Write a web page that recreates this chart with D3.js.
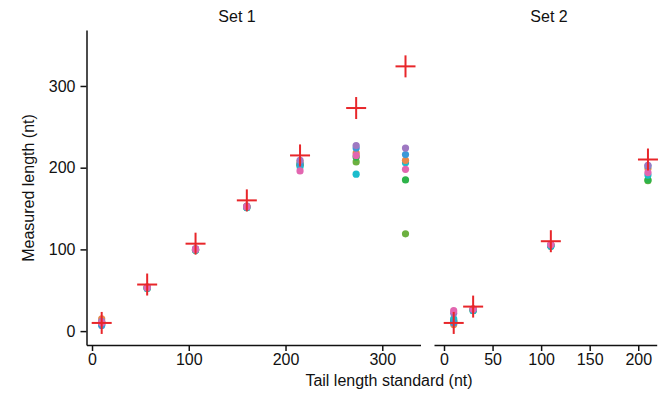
<!DOCTYPE html>
<html><head><meta charset="utf-8">
<script src="https://cdn.jsdelivr.net/npm/d3@7"></script>
<style>
html,body{margin:0;padding:0;background:#fff;}
text{font-family:"Liberation Sans",Arial,Helvetica,sans-serif;}
</style></head>
<body><svg id="c" width="663" height="394"></svg>
<script>
// ---- data ----
const set1Standards = [10, 57, 107, 160, 215, 273, 324];
const set2Standards = [10, 30, 110, 210];
const samples = ["S1", "S2", "S3", "S4", "S5", "S6", "S7"];
const sampleColors = ["#6cb040", "#2db34a", "#1bbccc", "#e8894a", "#3b99d8", "#9e78c2", "#e266b0"];
const set1Values = [
  [9, 52, 99, 151, 203, 207, 119],
  [11, 53, 100, 152, 204, 213, 185],
  [8, 52, 99, 151, 201, 192, 206],
  [15, 54, 100, 153, 207, 218, 209],
  [7, 53, 100, 152, 205, 224, 216],
  [12, 54, 101, 153, 209, 227, 224],
  [10, 53, 100, 152, 196, 215, 198]
];
const set2Values = [
  [13, 26, 105, 184],
  [12, 25, 104, 185],
  [15, 25, 104, 191],
  [8, 27, 106, 199],
  [10, 26, 105, 202],
  [22, 27, 106, 203],
  [25, 27, 106, 194]
];
const set1Ticks = [0, 100, 200, 300];
const set2Ticks = [0, 50, 100, 150, 200];
const yTicks = [0, 100, 200, 300];
const panelTitles = ["Set 1", "Set 2"];

// ---- layout ----
const svg = d3.select("#c");
const y = d3.scaleLinear().domain([-17, 368.5]).range([345, 30]);
const x1 = d3.scaleLinear().domain([-5.7, 339.5]).range([86.5, 420.5]);
const x2 = d3.scaleLinear().domain([-10.3, 219]).range([434, 656.7]);
const FS = 16;

function styleAxis(g){
  g.selectAll(".domain").attr("stroke","#111").attr("stroke-width",1.5);
  g.selectAll(".tick line").attr("stroke","#111").attr("stroke-width",1.5);
  g.selectAll(".tick text").attr("font-size",FS).attr("fill","#111")
    .attr("font-family",'"Liberation Sans",Arial,sans-serif');
}

// y axis
const gy = svg.append("g").attr("transform",`translate(${x1.range()[0]},0)`)
  .call(d3.axisLeft(y).tickValues(yTicks).tickSize(6).tickSizeOuter(0).tickPadding(5));
styleAxis(gy);

// x axes
const gx1 = svg.append("g").attr("transform",`translate(0,${y.range()[0]})`)
  .call(d3.axisBottom(x1).tickValues(set1Ticks).tickSize(6).tickSizeOuter(0).tickPadding(3));
styleAxis(gx1);
const gx2 = svg.append("g").attr("transform",`translate(0,${y.range()[0]})`)
  .call(d3.axisBottom(x2).tickValues(set2Ticks).tickSize(6).tickSizeOuter(0).tickPadding(3));
styleAxis(gx2);

function drawPanel(x, standards, values){
  const g = svg.append("g");
  values.forEach((vals, si) => {
    g.selectAll(null).data(vals.map((v,i)=>({x:standards[i], y:v})))
      .enter().append("circle")
      .attr("cx", d=>x(d.x)).attr("cy", d=>y(d.y)).attr("r",3.6)
      .attr("fill", sampleColors[si]);
  });
  const cr = g.selectAll(null).data(standards).enter().append("g");
  cr.append("line").attr("x1",d=>x(d)-10).attr("x2",d=>x(d)+10)
    .attr("y1",d=>y(d)).attr("y2",d=>y(d)).attr("stroke","#e8262a").attr("stroke-width",2);
  cr.append("line").attr("x1",d=>x(d)).attr("x2",d=>x(d))
    .attr("y1",d=>y(d)-11).attr("y2",d=>y(d)+11).attr("stroke","#e8262a").attr("stroke-width",2);
}
drawPanel(x1, set1Standards, set1Values);
drawPanel(x2, set2Standards, set2Values);

// titles
svg.append("text").attr("x",237).attr("y",22).attr("text-anchor","middle")
  .attr("font-size",FS).attr("fill","#111").text(panelTitles[0]);
svg.append("text").attr("x",549).attr("y",22).attr("text-anchor","middle")
  .attr("font-size",FS).attr("fill","#111").text(panelTitles[1]);
svg.append("text").attr("x",389).attr("y",386).attr("text-anchor","middle")
  .attr("font-size",FS).attr("fill","#111").text("Tail length standard (nt)");
svg.append("text").attr("transform","translate(34,188) rotate(-90)").attr("text-anchor","middle")
  .attr("font-size",FS).attr("fill","#111").text("Measured length (nt)");
</script></body></html>
